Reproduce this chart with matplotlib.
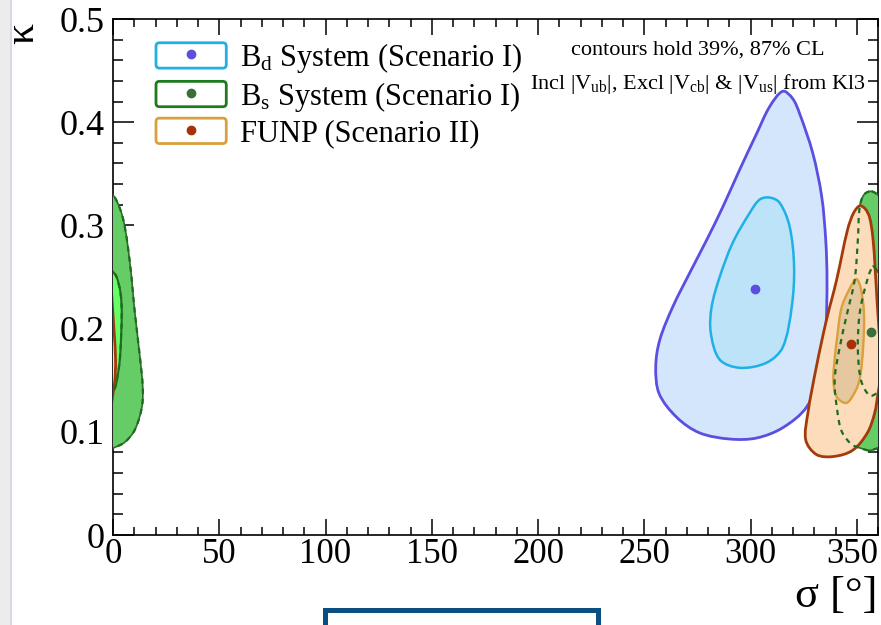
import numpy as np
import matplotlib
matplotlib.use("Agg")
import matplotlib.pyplot as plt
import matplotlib.transforms as mtransforms
from matplotlib.path import Path
from matplotlib.patches import PathPatch, Patch, Rectangle, FancyBboxPatch
from matplotlib.lines import Line2D
from matplotlib.legend_handler import HandlerTuple, HandlerPatch
from matplotlib.ticker import MultipleLocator

plt.rcParams["font.family"] = ["Liberation Serif", "DejaVu Serif"]
plt.rcParams["mathtext.fontset"] = "custom"
plt.rcParams["mathtext.rm"] = "Liberation Serif"
plt.rcParams["mathtext.it"] = "Liberation Serif:italic"

# ---- best-fit points (sigma in degrees, kappa) ----
bd_best = (302.0, 0.238)
bs_best = (356.9, 0.197)
funp_best = (347.1, 0.185)

# ---- confidence-region boundaries (sigma [deg], kappa) ----
bd_87_sigma = [315.2, 319.8, 323.0, 329.3, 333.5, 335.4, 336.0, 335.4, 332.6, 326.4,
               315.2, 302.9, 290.2, 276.0, 265.3, 257.0, 255.4, 257.3, 263.4, 271.4,
               279.4, 287.0, 294.9, 302.9, 309.0]
bd_87_kappa = [0.430, 0.423, 0.409, 0.370, 0.328, 0.286, 0.247, 0.199, 0.157, 0.124,
               0.104, 0.094, 0.093, 0.099, 0.114, 0.137, 0.163, 0.189, 0.221, 0.254,
               0.286, 0.318, 0.354, 0.389, 0.415]

bd_39_sigma = [309.0, 313.7, 318.4, 320.5, 319.4, 315.2, 307.6, 295.0, 285.5, 281.3,
               281.7, 285.5, 291.6, 299.6, 304.3]
bd_39_kappa = [0.327, 0.322, 0.299, 0.260, 0.221, 0.182, 0.167, 0.162, 0.170, 0.196,
               0.221, 0.250, 0.283, 0.312, 0.325]

# B_s region straddles sigma = 360 deg (drawn again shifted by -360)
bs_87_sigma = [357.0, 360.9, 364.9, 368.0, 370.3, 372.7, 374.0, 373.6, 370.3, 365.6,
               360.9, 356.0, 352.0, 347.5, 343.0, 341.0, 339.6, 342.0, 345.5, 349.0,
               350.5, 351.4, 353.5]
bs_87_kappa = [0.333, 0.327, 0.305, 0.263, 0.215, 0.172, 0.143, 0.124, 0.102, 0.090,
               0.085, 0.082, 0.084, 0.088, 0.100, 0.118, 0.150, 0.182, 0.215, 0.247,
               0.285, 0.318, 0.330]

bs_39_sigma = [357.5, 360.0, 361.7, 363.5, 364.1, 363.3, 362.0, 361.0, 359.0, 356.0,
               352.0, 350.5, 351.4, 354.0]
bs_39_kappa = [0.260, 0.255, 0.250, 0.235, 0.215, 0.172, 0.152, 0.143, 0.137, 0.135,
               0.150, 0.182, 0.215, 0.240]

funp_87_sigma = [351.4, 354.0, 356.0, 357.5, 358.6, 359.6, 360.6, 361.2, 360.9, 360.0,
                 358.4, 355.0, 348.0, 338.8, 331.0, 326.0, 327.0, 331.0, 335.7,
                 340.5, 345.7, 348.5]
funp_87_kappa = [0.319, 0.316, 0.308, 0.290, 0.260, 0.225, 0.195, 0.170, 0.150, 0.137,
                 0.118, 0.099, 0.082, 0.076, 0.078, 0.092, 0.118, 0.163, 0.208,
                 0.247, 0.296, 0.312]

funp_39_sigma = [349.8, 351.8, 353.4, 353.0, 351.5, 349.5, 345.2, 340.5, 339.0, 339.5,
                 340.8, 342.8, 346.5]
funp_39_kappa = [0.248, 0.240, 0.215, 0.182, 0.152, 0.140, 0.128, 0.134, 0.150, 0.168,
                 0.192, 0.220, 0.238]

x_ticks = [0, 50, 100, 150, 200, 250, 300, 350]
y_ticks = [0.0, 0.1, 0.2, 0.3, 0.4, 0.5]
y_tick_labels = ["0", "0.1", "0.2", "0.3", "0.4", "0.5"]

legend_labels = [r"B$_\mathregular{d}$ System (Scenario I)",
                 r"B$_\mathregular{s}$ System (Scenario I)",
                 "FUNP (Scenario II)"]

X_MAX, Y_MAX = 360.0, 0.5
W, H, DPI = 881, 625, 100
AX_W, AX_H = 765, 516


def closed_smooth_path(xs, ys):
    """Closed smooth curve through the points (cubic Bezier, chord-length tangents)."""
    sx, sy = AX_W / X_MAX, AX_H / Y_MAX          # work in an isotropic frame
    p = np.column_stack([np.asarray(xs) * sx, np.asarray(ys) * sy]).astype(float)
    n = len(p)
    d = np.linalg.norm(np.roll(p, -1, axis=0) - p, axis=1)      # d[i] = |p[i+1]-p[i]|
    m = np.empty_like(p)
    for i in range(n):
        m[i] = (p[(i + 1) % n] - p[i - 1]) / (d[i - 1] + d[i])
    verts = [p[0]]
    codes = [Path.MOVETO]
    for i in range(n):
        j = (i + 1) % n
        verts += [p[i] + m[i] * d[i] / 3.0, p[j] - m[j] * d[i] / 3.0, p[j]]
        codes += [Path.CURVE4] * 3
    verts.append(p[0])
    codes.append(Path.CLOSEPOLY)
    v = np.array(verts)
    v[:, 0] /= sx
    v[:, 1] /= sy
    return Path(v, codes)


def region(ax, xs, ys, shifts=(0.0,), **kw):
    for s in shifts:
        path = closed_smooth_path(np.asarray(xs) + s, ys)
        ax.add_patch(PathPatch(path, **kw))


def rounded_box(legend, orig_handle, xdescent, ydescent, width, height, fontsize):
    return FancyBboxPatch((-xdescent, -ydescent), width, height,
                          boxstyle="round,pad=0,rounding_size=2.5")


fig = plt.figure(figsize=(W / DPI, H / DPI), dpi=DPI)
ax = fig.add_axes([113 / W, 1 - 535 / H, AX_W / W, AX_H / H])

# B_d
region(ax, bd_87_sigma, bd_87_kappa, facecolor="#d3e6fb", edgecolor="#5b4ee0", lw=2.0, zorder=2)
region(ax, bd_39_sigma, bd_39_kappa, facecolor="#bde3f9", edgecolor="#1fb0e6", lw=1.8, zorder=3)

# B_s (filled, underneath FUNP)
region(ax, bs_87_sigma, bs_87_kappa, shifts=(0.0, -360.0),
       facecolor="#66cc66", edgecolor="#2e6b2e", lw=1.2, zorder=4)
region(ax, bs_39_sigma, bs_39_kappa, shifts=(0.0, -360.0),
       facecolor="#66ff66", edgecolor="#1d6e1d", lw=1.5, zorder=5)

# FUNP
region(ax, funp_87_sigma, funp_87_kappa, shifts=(0.0, -360.0),
       facecolor="#fddcbc", edgecolor="#a33a0c", lw=2.0, zorder=6)
region(ax, funp_39_sigma, funp_39_kappa,
       facecolor="#e5c8a0", edgecolor="#d9a03c", lw=1.7, zorder=7)

# B_s boundaries redrawn dashed on top
for xs, ys in [(bs_87_sigma, bs_87_kappa), (bs_39_sigma, bs_39_kappa)]:
    region(ax, xs, ys, shifts=(0.0, -360.0), facecolor="none",
           edgecolor="#1f6b1f", lw=1.6, linestyle=(0, (2.4, 2.2)), zorder=8)

# best-fit points
ax.plot(*bd_best, "o", color="#5b4ee0", ms=6, zorder=10)
ax.plot(*bs_best, "o", color="#3a6e3a", ms=6, zorder=10)
ax.plot(*funp_best, "o", color="#a83208", ms=6, zorder=10)

ax.set_xlim(0, X_MAX)
ax.set_ylim(0, Y_MAX)
ax.set_xticks(x_ticks)
ax.set_xticklabels([str(v) for v in x_ticks])
ax.set_yticks(y_ticks)
ax.set_yticklabels(y_tick_labels)
ax.xaxis.set_minor_locator(MultipleLocator(10))
ax.yaxis.set_minor_locator(MultipleLocator(0.02))

ax.tick_params(which="both", direction="in", top=True, right=True, width=1.1, color="black")
ax.tick_params(axis="x", which="major", length=11.5, pad=2, labelsize=25)
ax.tick_params(axis="x", which="minor", length=6)
ax.tick_params(axis="y", which="major", length=15, pad=6, labelsize=26)
ax.tick_params(axis="y", which="minor", length=7.5)
for sp in ax.spines.values():
    sp.set_linewidth(1.2)

# keep the last sigma label inside the canvas
last = ax.get_xticklabels()[-1]
last.set_transform(last.get_transform() +
                   mtransforms.ScaledTranslation(-5 / DPI, 0, fig.dpi_scale_trans))

# legend
handles = [
    (Patch(facecolor="white", edgecolor="#1fb0e6", lw=2.0),
     Line2D([], [], marker="o", ls="", color="#5b4ee0", ms=6)),
    (Patch(facecolor="white", edgecolor="#1d7a1d", lw=2.0),
     Line2D([], [], marker="o", ls="", color="#3a6e3a", ms=6)),
    (Patch(facecolor="white", edgecolor="#d9a03c", lw=2.0),
     Line2D([], [], marker="o", ls="", color="#a83208", ms=6)),
]
leg = ax.legend(handles, legend_labels,
                handler_map={tuple: HandlerTuple(ndivide=1),
                             Patch: HandlerPatch(patch_func=rounded_box)},
                loc="upper left", bbox_to_anchor=(43 / AX_W, (535 - 41) / AX_H),
                frameon=False, fontsize=22, handlelength=2.3, handleheight=0.9,
                handletextpad=0.45, labelspacing=0.15, borderpad=0, borderaxespad=0)
leg.set_zorder(12)

# annotation
ax.text((698 - 113) / AX_W, (535 - 50) / AX_H, "contours hold 39%, 87% CL",
        transform=ax.transAxes, ha="center", va="center", fontsize=16, zorder=12)
ax.text((698 - 113) / AX_W, (535 - 84) / AX_H,
        r"Incl |V$_\mathregular{ub}$|, Excl |V$_\mathregular{cb}$| & |V$_\mathregular{us}$| from Kl3",
        transform=ax.transAxes, ha="center", va="center", fontsize=16, zorder=12)

# axis titles
fig.text(877 / W, 1 - 596 / H, "σ [°]", ha="right", va="center", fontsize=32)
fig.text(23 / W, 1 - 33 / H, "κ", ha="center", va="center", rotation=90, fontsize=30)

# window edge and box below the frame
fig.patches.append(Rectangle((0, 0), 10 / W, 1, transform=fig.transFigure,
                             facecolor="#ececec", edgecolor="none", zorder=0))
fig.patches.append(Rectangle((10 / W, 0), 1.5 / W, 1, transform=fig.transFigure,
                             facecolor="#d5dbe4", edgecolor="none", zorder=0))
fig.patches.append(Rectangle((325 / W, -0.05), 273 / W, (625 - 610) / H + 0.05,
                             transform=fig.transFigure, facecolor="white",
                             edgecolor="#0b4f82", lw=3.6, zorder=1))

fig.savefig("out.png", dpi=DPI)
